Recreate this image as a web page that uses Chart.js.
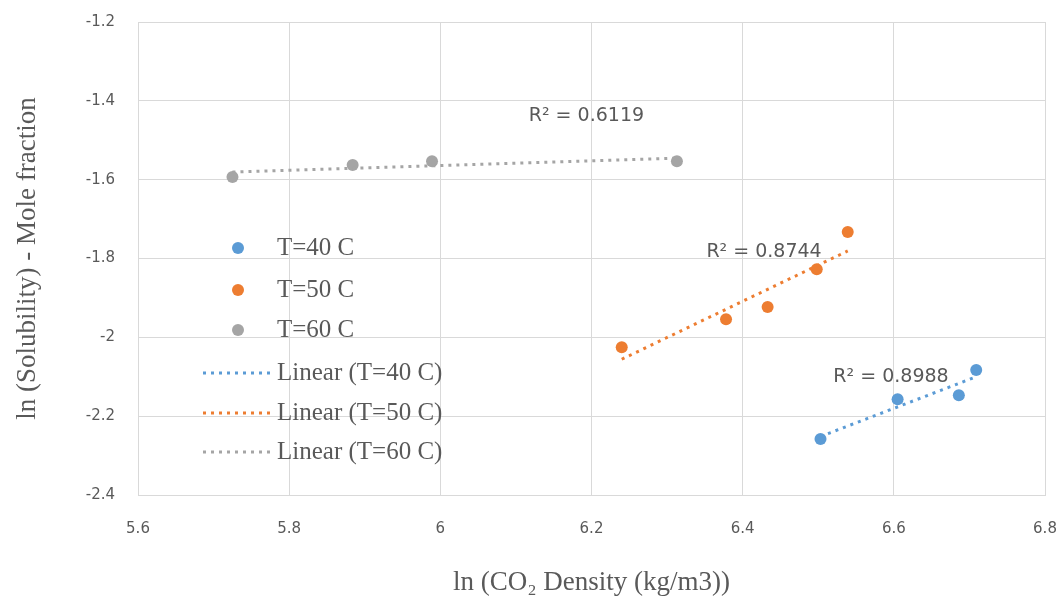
<!DOCTYPE html>
<html>
<head>
<meta charset="utf-8">
<script src="https://cdn.jsdelivr.net/npm/chart.js@4"></script>
<style>
  body { margin: 0; background: #fff; }
  #wrap { width: 1062px; height: 596px; }
</style>
</head>
<body>
<div id="wrap"><canvas id="solubility-chart" width="1062" height="596"></canvas></div>
<script>
// values
const seriesNames = ["T=40 C", "T=50 C", "T=60 C"];
const t40_x = [6.503, 6.605, 6.686, 6.709];
const t40_y = [-2.258, -2.157, -2.147, -2.083];
const t50_x = [6.240, 6.378, 6.433, 6.498, 6.539];
const t50_y = [-2.025, -1.954, -1.923, -1.827, -1.733];
const t60_x = [5.725, 5.884, 5.989, 6.313];
const t60_y = [-1.593, -1.563, -1.553, -1.553];
const r2_labels = ["R² = 0.8988", "R² = 0.8744", "R² = 0.6119"];
const x_ticks = [5.6, 5.8, 6, 6.2, 6.4, 6.6, 6.8];
const y_ticks = [-1.2, -1.4, -1.6, -1.8, -2, -2.2, -2.4];

const colors = ["#5b9bd5", "#ed7d31", "#a5a5a5"];
const textColor = "#595959";
const gridColor = "#d9d9d9";

function to_points(xs, ys) {
    const pts = [];
    for (let i = 0; i < xs.length; i++) {
        pts.push({x: xs[i], y: ys[i]});
    }
    return pts;
}

// least squares line over the range of the points (like an Excel trendline)
function trend_line(xs, ys) {
    const n = xs.length;
    let mx = 0, my = 0;
    for (let i = 0; i < n; i++) { mx += xs[i]; my += ys[i]; }
    mx /= n; my /= n;
    let sxy = 0, sxx = 0;
    for (let i = 0; i < n; i++) {
        sxy += (xs[i] - mx) * (ys[i] - my);
        sxx += (xs[i] - mx) * (xs[i] - mx);
    }
    const slope = sxy / sxx;
    const x0 = Math.min(...xs), x1 = Math.max(...xs);
    return [{x: x0, y: my + slope * (x0 - mx)}, {x: x1, y: my + slope * (x1 - mx)}];
}

const all_x = [t40_x, t50_x, t60_x];
const all_y = [t40_y, t50_y, t60_y];

const datasets = [];
for (let s = 0; s < 3; s++) {
    datasets.push({
        label: "Linear (" + seriesNames[s] + ")",
        data: trend_line(all_x[s], all_y[s]),
        showLine: true,
        borderColor: colors[s],
        borderWidth: 3,
        borderDash: [3, 5],
        pointRadius: 0,
        order: 0
    });
    datasets.push({
        label: seriesNames[s],
        data: to_points(all_x[s], all_y[s]),
        backgroundColor: colors[s],
        borderColor: colors[s],
        pointRadius: 6,
        pointBorderWidth: 0,
        order: 1
    });
}

// R² labels, anchored in data units (left edge, middle)
const r2_pos = [[6.520, -2.101], [6.352, -1.784], [6.117, -1.4386]];

const labelsPlugin = {
    id: "r2labels",
    afterDatasetsDraw(chart) {
        const c = chart.ctx;
        const xs = chart.scales.x, ys = chart.scales.y;
        c.save();
        c.font = "19px 'DejaVu Sans'";
        c.fillStyle = textColor;
        c.textBaseline = "middle";
        c.textAlign = "left";
        for (let i = 0; i < r2_labels.length; i++) {
            c.fillText(r2_labels[i], xs.getPixelForValue(r2_pos[i][0]), ys.getPixelForValue(r2_pos[i][1]));
        }
        c.restore();
    }
};

// legend sits inside the plot, left side
const legendPlugin = {
    id: "insideLegend",
    afterDraw(chart) {
        const c = chart.ctx;
        c.save();
        c.font = "25px 'Liberation Serif'";
        c.fillStyle = textColor;
        c.textBaseline = "middle";
        const rowsDot = [248, 290, 330];
        const rowsLine = [373, 413, 452];
        for (let s = 0; s < 3; s++) {
            c.fillStyle = colors[s];
            c.beginPath();
            c.arc(238, rowsDot[s], 6, 0, Math.PI * 2);
            c.fill();
            c.fillStyle = textColor;
            c.fillText(seriesNames[s], 277, rowsDot[s]);
        }
        for (let s = 0; s < 3; s++) {
            c.strokeStyle = colors[s];
            c.lineWidth = 3;
            c.setLineDash([3, 5]);
            c.beginPath();
            c.moveTo(203, rowsLine[s]);
            c.lineTo(270, rowsLine[s]);
            c.stroke();
            c.fillStyle = textColor;
            c.fillText("Linear (" + seriesNames[s] + ")", 277, rowsLine[s]);
        }
        c.restore();
    }
};

const fmt = function(v) { return String(Number(v.toFixed(1))); };

const ctx = document.getElementById("solubility-chart").getContext("2d");
const solubility_chart = new Chart(ctx, {
    type: "scatter",
    data: { datasets: datasets },
    options: {
        responsive: false,
        animation: false,
        layout: { padding: { top: 22, right: 17, left: 0, bottom: 0 } },
        plugins: {
            legend: { display: false },
            tooltip: { enabled: false }
        },
        scales: {
            x: {
                type: "linear",
                min: 5.6,
                max: 6.8,
                afterBuildTicks(scale) { scale.ticks = x_ticks.map(v => ({value: v})); },
                afterFit(scale) {
                    scale.height = 101;
                    scale.paddingLeft = 0;
                    scale.paddingRight = 0;
                },
                ticks: { callback: fmt, color: textColor, font: { family: "DejaVu Sans", size: 15 }, padding: 25, maxRotation: 0 },
                grid: { color: gridColor, drawTicks: false },
                border: { color: gridColor },
                title: {
                    display: true,
                    text: "ln (CO\u2082 Density (kg/m3))",
                    color: textColor,
                    font: { family: "Liberation Serif", size: 27, lineHeight: 1 },
                    padding: { top: 0, bottom: 0 }
                }
            },
            y: {
                type: "linear",
                min: -2.4,
                max: -1.2,
                afterBuildTicks(scale) { scale.ticks = y_ticks.slice().reverse().map(v => ({value: v})); },
                afterFit(scale) {
                    scale.width = 138;
                    scale.paddingTop = 0;
                    scale.paddingBottom = 0;
                },
                ticks: { callback: fmt, color: textColor, font: { family: "DejaVu Sans", size: 15 }, padding: 23 },
                grid: { color: gridColor, drawTicks: false },
                border: { color: gridColor },
                title: {
                    display: true,
                    text: "ln (Solubility) - Mole fraction",
                    color: textColor,
                    font: { family: "Liberation Serif", size: 27 },
                    padding: { top: 12, bottom: 0 }
                }
            }
        }
    },
    plugins: [labelsPlugin, legendPlugin]
});
</script>
</body>
</html>
